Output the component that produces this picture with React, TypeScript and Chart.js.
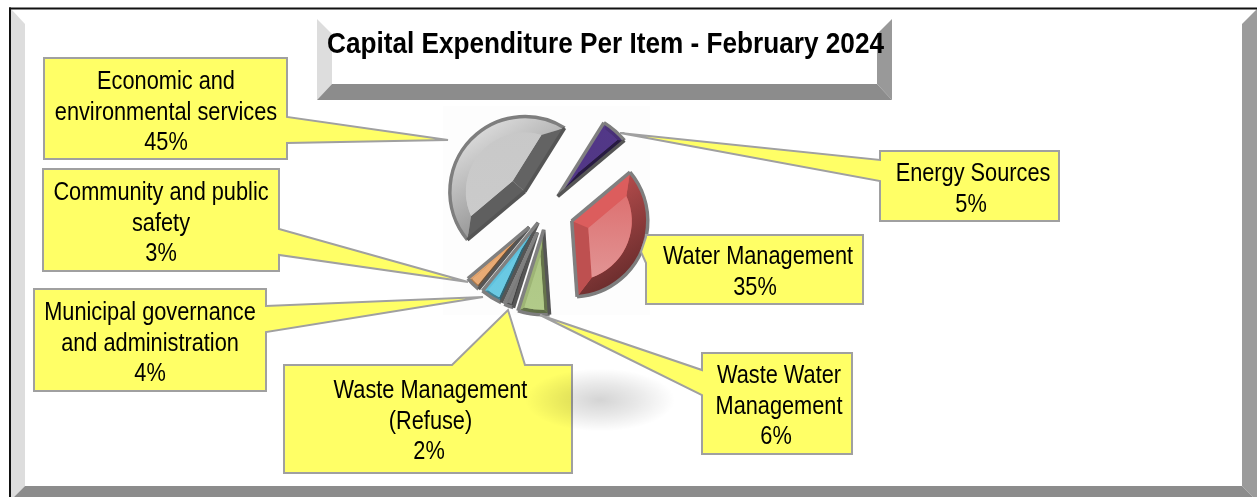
import React, { useEffect, useRef } from "react";
import { Chart, registerables } from "chart.js";

Chart.register(...registerables);

const chartTitle = "Capital Expenditure Per Item - February 2024";
const categories = [
  "Energy Sources",
  "Water Management",
  "Waste Water Management",
  "Waste Management (Refuse)",
  "Municipal governance and administration",
  "Community and public safety",
  "Economic and environmental services",
];
const shares = [5, 35, 6, 2, 4, 3, 45];
const labelLines = [
  ["Energy Sources"],
  ["Water Management"],
  ["Waste Water", "Management"],
  ["Waste Management", "(Refuse)"],
  ["Municipal governance", "and administration"],
  ["Community and public", "safety"],
  ["Economic and", "environmental services"],
];

// Styling and placement, kept apart from the values above
const W = 1257;
const H = 497;
const sliceColors = ["#533889", "#da5c5c", "#a6bf7c", "#7d7d7d", "#5fc2de", "#eca566", "#c8c8c8"];
const sliceColorsEnd = ["#4e3680", "#e39c9c", "#b2cb8a", "#7d7d7d", "#6ccbe4", "#e8ac78", "#cccccc"];
const explode = [18, 28, 20, 24, 15, 24, 28];
const sliceRadius = [87, 76, 85, 79, 88, 80, 75];
const bevel = [5, 16, 5, 3, 4, 3, 16];

type Box = {
  x0: number; y0: number; x1: number; y1: number;
  side: "left" | "right" | "top";
  a: [number, number]; b: [number, number]; tip: [number, number];
  cx: number; base: number; pctShift: number;
};
const boxes: Box[] = [
  { x0: 880, y0: 151, x1: 1059, y1: 221, side: "left", a: [880, 160], b: [880, 181], tip: [620, 133], cx: 973, base: 181, pctShift: -2 },
  { x0: 646, y0: 235, x1: 863, y1: 304, side: "left", a: [646, 237], b: [646, 263], tip: [641, 252], cx: 758, base: 264, pctShift: -3 },
  { x0: 702, y0: 353, x1: 852, y1: 454, side: "left", a: [702, 370], b: [702, 395], tip: [540, 315], cx: 779, base: 383, pctShift: -3 },
  { x0: 284, y0: 365, x1: 572, y1: 473, side: "top", a: [452, 365], b: [525, 365], tip: [508, 310], cx: 430.5, base: 398, pctShift: -1.5 },
  { x0: 34, y0: 289, x1: 266, y1: 391, side: "right", a: [266, 306], b: [266, 332], tip: [483, 297], cx: 150, base: 320, pctShift: 0 },
  { x0: 43, y0: 169, x1: 279, y1: 271, side: "right", a: [279, 229], b: [279, 255], tip: [468, 282], cx: 161, base: 200, pctShift: 0 },
  { x0: 44, y0: 58, x1: 287, y1: 159, side: "right", a: [287, 117], b: [287, 143], tip: [448, 140], cx: 166, base: 89, pctShift: 0 },
];

function shade(hex: string, k: number) {
  const n = parseInt(hex.slice(1), 16);
  const f = (v: number) => Math.max(0, Math.min(255, Math.round(v * k)));
  return `rgb(${f((n >> 16) & 255)},${f((n >> 8) & 255)},${f(n & 255)})`;
}
function poly(ctx: CanvasRenderingContext2D, pts: number[][], fill: string) {
  ctx.beginPath();
  pts.forEach((p, i) => (i ? ctx.lineTo(p[0], p[1]) : ctx.moveTo(p[0], p[1])));
  ctx.closePath();
  ctx.fillStyle = fill;
  ctx.fill();
}
function squeezed(ctx: CanvasRenderingContext2D, s: string, cx: number, base: number, sx: number) {
  ctx.save();
  ctx.translate(cx, base);
  ctx.scale(sx, 1);
  ctx.textAlign = "center";
  ctx.textBaseline = "alphabetic";
  ctx.fillText(s, 0, 0);
  ctx.restore();
}

const framePlugin = {
  id: "frame",
  beforeDraw(chart: any) {
    const ctx: CanvasRenderingContext2D = chart.ctx;
    ctx.save();
    ctx.fillStyle = "#ffffff";
    ctx.fillRect(0, 0, W, H);
    poly(ctx, [[11, 9], [25, 24], [25, 486], [14, 497], [11, 497]], "#dddddd");
    poly(ctx, [[W, 9], [1242, 24], [1242, 486], [1253, 497], [W, 497]], "#9b9b9b");
    poly(ctx, [[14, 497], [25, 486], [1242, 486], [1253, 497]], "#8c8c8c");
    ctx.fillStyle = "#111111";
    ctx.fillRect(9, 7.5, W - 9, 2);
    ctx.fillRect(9, 7.5, 2, H);
    // title plate
    poly(ctx, [[317, 19], [332, 34], [332, 84], [317, 100]], "#dddddd");
    poly(ctx, [[892, 19], [877, 34], [877, 84], [892, 100]], "#999999");
    poly(ctx, [[317, 100], [332, 84], [877, 84], [892, 100]], "#8c8c8c");
    // pale plot image behind the pie
    ctx.fillStyle = "#fdfdfd";
    ctx.fillRect(443, 106, 207, 209);
    ctx.restore();
  },
};

const bevelPlugin = {
  id: "bevel",
  afterDatasetsUpdate(chart: any) {
    chart.getDatasetMeta(0).data.forEach((arc: any, i: number) => {
      const circ = arc.endAngle - arc.startAngle;
      const fix = 1 - Math.sin(Math.min(Math.PI, circ));
      arc.outerRadius = sliceRadius[i] - explode[i] * fix;
    });
  },
  afterDatasetsDraw(chart: any) {
    const ctx: CanvasRenderingContext2D = chart.ctx;
    const L = [-0.55, -0.83];
    chart.getDatasetMeta(0).data.forEach((arc: any, i: number) => {
      const a0 = arc.startAngle;
      const a1 = arc.endAngle;
      const half = (a0 + a1) / 2;
      const circ = a1 - a0;
      const t = explode[i];
      const fix = 1 - Math.sin(Math.min(Math.PI, circ));
      const ax = arc.x + Math.cos(half) * t;
      const ay = arc.y + Math.sin(half) * t;
      const r = arc.outerRadius + t * fix;
      const d = bevel[i];
      const base = sliceColors[i];
      const dd = d / Math.sin(circ / 2);
      const ix = ax + Math.cos(half) * dd;
      const iy = ay + Math.sin(half) * dd;
      const ri = r - d;
      const delta = Math.asin(d / ri);
      const i0 = a0 + delta;
      const i1 = a1 - delta;
      const P = (ang: number, rad: number) => [ax + Math.cos(ang) * rad, ay + Math.sin(ang) * rad];
      const bright = (n: number[]) => 0.74 + 0.27 * (n[0] * L[0] + n[1] * L[1]);
      const n0 = [Math.sin(a0), -Math.cos(a0)];
      const n1 = [-Math.sin(a1), Math.cos(a1)];
      ctx.save();
      ctx.lineJoin = "round";
      // arc facet
      const grad = ctx.createLinearGradient(ax + L[0] * r, ay + L[1] * r, ax - L[0] * r, ay - L[1] * r);
      grad.addColorStop(0, shade(base, 1.08));
      grad.addColorStop(1, shade(base, 0.5));
      ctx.beginPath();
      ctx.arc(ax, ay, r, a0, a1);
      ctx.arc(ax, ay, ri, i1, i0, true);
      ctx.closePath();
      ctx.fillStyle = grad;
      ctx.fill();
      // straight facets
      const o0 = P(a0, r);
      const o1 = P(a1, r);
      poly(ctx, [[ax, ay], o0, P(i0, ri), [ix, iy]], shade(base, bright(n0)));
      poly(ctx, [[ax, ay], o1, P(i1, ri), [ix, iy]], shade(base, bright(n1)));
      // face
      const faceGrad = ctx.createLinearGradient(0, ay - r, 0, ay + r);
      faceGrad.addColorStop(0, base);
      faceGrad.addColorStop(1, sliceColorsEnd[i]);
      ctx.beginPath();
      ctx.moveTo(ix, iy);
      ctx.arc(ax, ay, ri, i0, i1);
      ctx.closePath();
      ctx.fillStyle = faceGrad;
      ctx.fill();
      // rim: lit edges grey, shaded edges dark
      const edge = (n: number[]) => (n[0] * L[0] + n[1] * L[1] < -0.2 ? "#555555" : "#808080");
      ctx.lineWidth = 3.5;
      ctx.strokeStyle = "#7e7e7e";
      ctx.beginPath();
      ctx.arc(ax, ay, r, a0, a1);
      ctx.stroke();
      ctx.strokeStyle = edge(n0);
      ctx.beginPath();
      ctx.moveTo(ax, ay);
      ctx.lineTo(o0[0], o0[1]);
      ctx.stroke();
      ctx.strokeStyle = edge(n1);
      ctx.beginPath();
      ctx.moveTo(ax, ay);
      ctx.lineTo(o1[0], o1[1]);
      ctx.stroke();
      ctx.restore();
    });
  },
};

const calloutPlugin = {
  id: "callouts",
  afterDraw(chart: any) {
    const ctx: CanvasRenderingContext2D = chart.ctx;
    ctx.save();
    boxes.forEach((b) => {
      ctx.beginPath();
      ctx.moveTo(b.x0, b.y0);
      if (b.side === "top") {
        ctx.lineTo(b.a[0], b.a[1]);
        ctx.lineTo(b.tip[0], b.tip[1]);
        ctx.lineTo(b.b[0], b.b[1]);
      }
      ctx.lineTo(b.x1, b.y0);
      if (b.side === "right") {
        ctx.lineTo(b.a[0], b.a[1]);
        ctx.lineTo(b.tip[0], b.tip[1]);
        ctx.lineTo(b.b[0], b.b[1]);
      }
      ctx.lineTo(b.x1, b.y1);
      ctx.lineTo(b.x0, b.y1);
      if (b.side === "left") {
        ctx.lineTo(b.b[0], b.b[1]);
        ctx.lineTo(b.tip[0], b.tip[1]);
        ctx.lineTo(b.a[0], b.a[1]);
      }
      ctx.closePath();
      ctx.fillStyle = "#ffff66";
      ctx.fill();
      ctx.lineWidth = 2;
      ctx.strokeStyle = "#a0a0a0";
      ctx.lineJoin = "miter";
      ctx.stroke();
    });
    // soft floor shadow of the pie, over the refuse label
    ctx.save();
    ctx.translate(600, 400);
    ctx.scale(1, 0.42);
    const sh = ctx.createRadialGradient(0, 0, 0, 0, 0, 75);
    sh.addColorStop(0, "rgba(0,0,0,0.17)");
    sh.addColorStop(0.5, "rgba(0,0,0,0.09)");
    sh.addColorStop(1, "rgba(0,0,0,0)");
    ctx.fillStyle = sh;
    ctx.beginPath();
    ctx.arc(0, 0, 75, 0, Math.PI * 2);
    ctx.fill();
    ctx.restore();
    // text
    ctx.fillStyle = "#000000";
    ctx.font = '25px "Liberation Sans"';
    boxes.forEach((b, i) => {
      labelLines[i].forEach((s, k) => squeezed(ctx, s, b.cx, b.base + k * 30.5, 0.87));
      squeezed(ctx, `${shares[i]}%`, b.cx + b.pctShift, b.base + labelLines[i].length * 30.5, 0.87);
    });
    ctx.font = 'bold 30px "Liberation Sans"';
    const tw = ctx.measureText(chartTitle).width;
    squeezed(ctx, chartTitle, 605.5, 53, 557 / tw);
    ctx.restore();
  },
};

export default function App() {
  const ref = useRef<HTMLCanvasElement>(null);
  useEffect(() => {
    if (!ref.current) return;
    const chart = new Chart(ref.current, {
      type: "pie",
      data: {
        labels: categories,
        datasets: [
          {
            data: shares,
            backgroundColor: sliceColors,
            borderColor: "#808080",
            borderWidth: 2,
            offset: explode.map((o) => o * 4),
          },
        ],
      },
      options: {
        responsive: false,
        animation: false,
        rotation: 32,
        events: [],
        layout: { padding: { left: 346, right: W - 746, top: 10, bottom: H - 410 } },
        plugins: { legend: { display: false }, tooltip: { enabled: false }, title: { display: false } },
      },
      plugins: [framePlugin, bevelPlugin, calloutPlugin],
    } as any);
    return () => chart.destroy();
  }, []);
  return (
    <canvas
      ref={ref}
      width={W}
      height={H}
      style={{ position: "fixed", left: 0, top: 0, width: W, height: H, display: "block" }}
    />
  );
}
